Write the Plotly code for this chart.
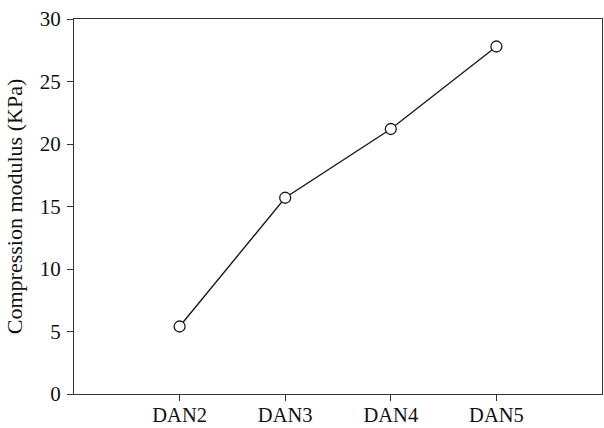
import plotly.graph_objects as go

# Samples and their measured compression modulus
samples = ["DAN2", "DAN3", "DAN4", "DAN5"]
modulus_kpa = [5.4, 15.7, 21.2, 27.8]

y_ticks = [0, 5, 10, 15, 20, 25, 30]

serif = "Liberation Serif"

fig = go.Figure(
    go.Scatter(
        x=samples,
        y=modulus_kpa,
        mode="lines+markers",
        line=dict(color="#1a1a1a", width=1.4),
        marker=dict(symbol="circle", size=11, color="white",
                    line=dict(color="#1a1a1a", width=1.3)),
        showlegend=False,
    )
)

fig.update_layout(
    width=604,
    height=428,
    margin=dict(l=74, r=2, t=19, b=34, autoexpand=False),
    paper_bgcolor="white",
    plot_bgcolor="white",
    font=dict(family=serif, size=20, color="#111111"),
)

fig.update_xaxes(
    type="category",
    range=[-1, 4],
    automargin=False,
    showgrid=False,
    zeroline=False,
    showline=True,
    linecolor="#333333",
    linewidth=1.3,
    mirror=True,
    ticks="outside",
    ticklen=6,
    tickwidth=1.2,
    tickcolor="#333333",
    ticklabelstandoff=-4,
    tickfont=dict(family=serif, size=20.5),
)

fig.update_yaxes(
    range=[0, 30],
    tickvals=y_ticks,
    automargin=False,
    showgrid=False,
    zeroline=False,
    showline=True,
    linecolor="#333333",
    linewidth=1.3,
    mirror=True,
    ticks="outside",
    ticklen=6,
    tickwidth=1.2,
    tickcolor="#333333",
    ticklabelstandoff=2,
    tickfont=dict(family=serif, size=21),
    title=dict(text="Compression modulus (KPa)",
               font=dict(family=serif, size=22), standoff=10),
)

fig.write_html("out.html")
